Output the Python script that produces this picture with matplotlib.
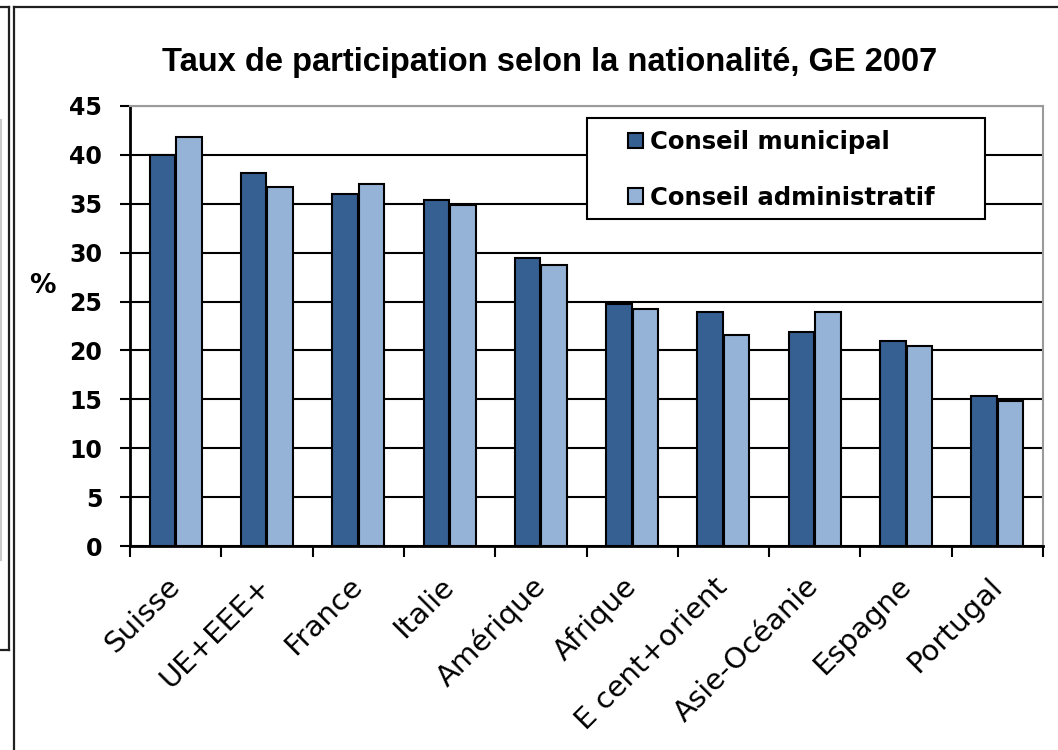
import matplotlib
matplotlib.use("Agg")
import matplotlib.pyplot as plt
import numpy as np
from matplotlib.patches import Rectangle
from matplotlib.lines import Line2D

# ---- data -------------------------------------------------------------------------------
categories = ["Suisse", "UE+EEE+", "France", "Italie", "Amérique", "Afrique",
              "E cent+orient", "Asie-Océanie", "Espagne", "Portugal"]
municipal = [40.0, 38.1, 36.0, 35.4, 29.5, 24.8, 23.9, 21.9, 21.0, 15.3]
administratif = [41.8, 36.7, 37.0, 34.9, 28.7, 24.2, 21.6, 23.9, 20.5, 14.8]
yticks = [0, 5, 10, 15, 20, 25, 30, 35, 40, 45]

TITLE = "Taux de participation selon la nationalité, GE 2007"
LABELS = ["Conseil municipal", "Conseil administratif"]
C_DARK, C_LIGHT = "#376092", "#95B3D7"

W, H = 1058, 750
fig = plt.figure(figsize=(W / 100, H / 100), dpi=100)
fig.patch.set_facecolor("white")

# axes placed in pixel terms of the reference
L, R, T, B = 130, 1043, 106, 546
ax = fig.add_axes([L / W, 1 - B / H, (R - L) / W, (B - T) / H])

x = np.arange(len(categories))
bw = 0.28
ax.bar(x - 0.145, municipal, width=bw, color=C_DARK, edgecolor="black", lw=1.5,
       zorder=3, label=LABELS[0])
ax.bar(x + 0.145, administratif, width=bw, color=C_LIGHT, edgecolor="black", lw=1.5,
       zorder=3, label=LABELS[1])

ax.set_xlim(-0.5, len(categories) - 0.5)
ax.set_ylim(0, 45)
ax.set_yticks(yticks)
ax.set_yticklabels([str(v) for v in yticks], fontfamily="DejaVu Sans",
                   fontweight="bold", fontsize=17)
ax.yaxis.grid(True, color="black", lw=1.5, zorder=1)
ax.tick_params(axis="y", length=7, width=1.5, pad=13, direction="out")

# category boundaries carry the ticks, centres carry the labels
ax.set_xticks(np.arange(-0.5, len(categories)), labels=[])
ax.tick_params(axis="x", which="major", length=8, width=1.5, direction="out")
ax.set_xticks(x, labels=categories, minor=True)
ax.tick_params(axis="x", which="minor", length=0, pad=26)
for lab in ax.get_xticklabels(minor=True):
    lab.set_rotation(45)
    lab.set_ha("right")
    lab.set_va("center")
    lab.set_rotation_mode("anchor")
    lab.set_fontfamily("DejaVu Sans")
    lab.set_fontsize(21)

for s in ["left", "bottom"]:
    ax.spines[s].set_color("black")
    ax.spines[s].set_linewidth(2)
for s in ["top", "right"]:
    ax.spines[s].set_color("#9a9a9a")
    ax.spines[s].set_linewidth(1.5)
ax.set_axisbelow(True)

# "%" axis label, horizontal
fig.text(42 / W, 1 - 286 / H, "%", fontfamily="DejaVu Sans", fontweight="bold",
         fontsize=19, ha="center", va="center")

fig.text(550 / W, 1 - 62 / H, TITLE, fontfamily="Liberation Sans", fontweight="bold",
         fontsize=23.5, ha="center", va="center")

# legend: white box drawn by hand, entries without frame
lx0, ly0, lx1, ly1 = 587, 118, 985, 219
fig.patches.append(Rectangle((lx0 / W, 1 - ly1 / H), (lx1 - lx0) / W, (ly1 - ly0) / H,
                             transform=fig.transFigure, facecolor="white",
                             edgecolor="black", lw=1.5, zorder=5))
leg = fig.legend(loc="upper left", bbox_to_anchor=(628 / W, 1 - 130 / H), frameon=False,
                 prop={"family": "DejaVu Sans", "weight": "bold", "size": 17.5},
                 handlelength=0.6, handleheight=0.6, handletextpad=0.3,
                 labelspacing=1.3, borderpad=0, borderaxespad=0)
leg.set_zorder(6)

# outer chart frame and the edge of the neighbouring chart box
def fline(xs, ys, color="#202020", lw=1.6):
    fig.add_artist(Line2D([v / W for v in xs], [1 - v / H for v in ys],
                          transform=fig.transFigure, color=color, lw=lw))

fline([14, W], [7, 7])
fline([14, 14], [7, H])
fline([0, 9], [7, 7])
fline([9, 9], [7, 650])
fline([0, 9], [650, 650])
fline([1, 1], [120, 560], color="#c8c8c8", lw=1.5)

fig.savefig("out.png", dpi=100, facecolor="white")
